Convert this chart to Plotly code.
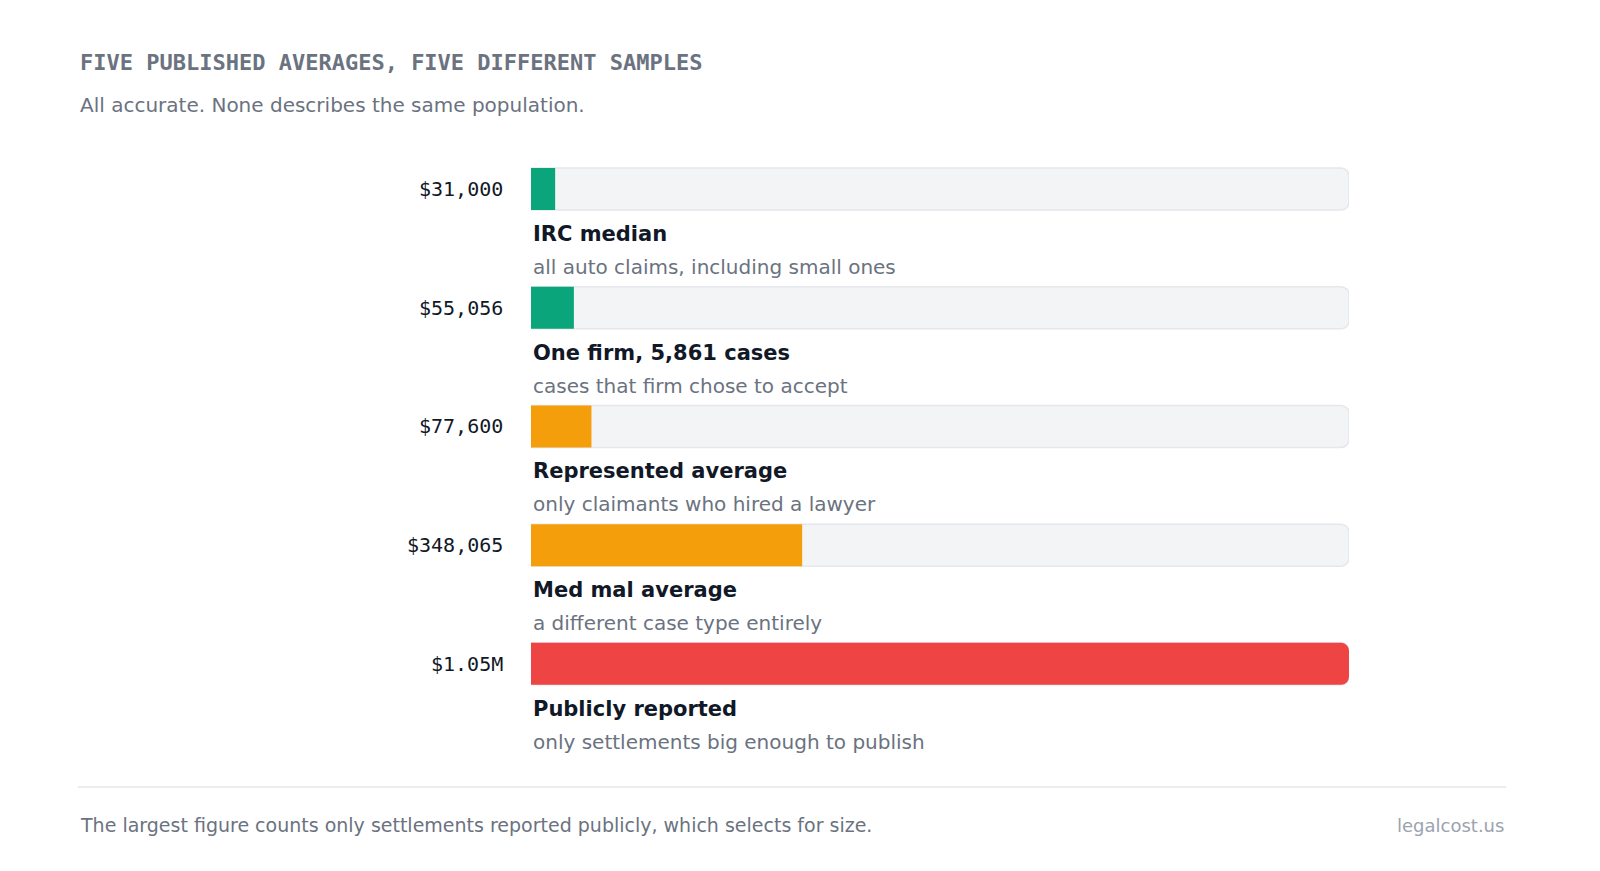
import plotly.graph_objects as go

# data
values = [31000, 55056, 77600, 348065, 1050000]
value_labels = ["$31,000", "$55,056", "$77,600", "$348,065", "$1.05M"]
titles = ["IRC median", "One firm, 5,861 cases", "Represented average",
          "Med mal average", "Publicly reported"]
subtitles = ["all auto claims, including small ones",
             "cases that firm chose to accept",
             "only claimants who hired a lawyer",
             "a different case type entirely",
             "only settlements big enough to publish"]
colors = ["#0ba57c", "#0ba57c", "#f59e0b", "#f59e0b", "#ef4444"]
MAX_VAL = 1050000

W, H = 1600, 871
rows = list(range(len(values)))

fig = go.Figure()

# background tracks
fig.add_trace(go.Bar(
    x=[MAX_VAL] * len(values), y=rows, orientation="h", width=0.354,
    marker=dict(color="#f3f4f6", line=dict(color="#e5e7eb", width=1.5)),
    hoverinfo="skip", showlegend=False,
))
# value bars
fig.add_trace(go.Bar(
    x=values, y=rows, orientation="h", width=0.354,
    marker=dict(color=colors, line=dict(width=0)),
    hovertemplate="%{x:$,.0f}<extra></extra>", showlegend=False,
))

for i in rows:
    fig.add_annotation(x=0, y=i, xref="x", yref="y", text=value_labels[i],
                       showarrow=False, xanchor="right", xshift=-26,
                       font=dict(family="DejaVu Sans Mono", size=20, color="#111827"))
    fig.add_annotation(x=0, y=i, xref="x", yref="y", text="<b>" + titles[i] + "</b>",
                       showarrow=False, xanchor="left", yshift=-45,
                       font=dict(family="DejaVu Sans", size=21, color="#111827"))
    fig.add_annotation(x=0, y=i, xref="x", yref="y", text=subtitles[i],
                       showarrow=False, xanchor="left", yshift=-78,
                       font=dict(family="DejaVu Sans", size=20, color="#6b7280"))

# header / footer
fig.add_annotation(x=70 / W, y=1 - 55 / H, xref="paper", yref="paper",
                   text="<b>FIVE PUBLISHED AVERAGES, FIVE DIFFERENT SAMPLES</b>",
                   showarrow=False, xanchor="left", yanchor="middle",
                   font=dict(family="DejaVu Sans Mono", size=22, color="#6b7280"))
fig.add_annotation(x=70 / W, y=1 - 97 / H, xref="paper", yref="paper",
                   text="All accurate. None describes the same population.",
                   showarrow=False, xanchor="left", yanchor="middle",
                   font=dict(family="DejaVu Sans", size=20, color="#6b7280"))
fig.add_annotation(x=70 / W, y=1 - 817 / H, xref="paper", yref="paper",
                   text="The largest figure counts only settlements reported publicly, which selects for size.",
                   showarrow=False, xanchor="left", yanchor="middle",
                   font=dict(family="DejaVu Sans", size=19, color="#6b7280"))
fig.add_annotation(x=1498 / W, y=1 - 817 / H, xref="paper", yref="paper",
                   text="legalcost.us", showarrow=False, xanchor="right", yanchor="middle",
                   font=dict(family="DejaVu Sans", size=18, color="#9ca3af"))
fig.add_shape(type="line", xref="paper", yref="paper",
              x0=70 / W, x1=1498 / W, y0=1 - 779 / H, y1=1 - 779 / H,
              line=dict(color="#e5e7eb", width=1.5))

fig.update_layout(
    width=W, height=H,
    margin=dict(l=0, r=0, t=0, b=0),
    paper_bgcolor="white", plot_bgcolor="white",
    barmode="overlay", barcornerradius=8,
    xaxis=dict(domain=[523 / W, 1341 / W], range=[0, MAX_VAL],
               visible=False, fixedrange=True),
    yaxis=dict(domain=[1 - 715.2 / H, 1 - 121.7 / H], range=[4.5, -0.5],
               visible=False, fixedrange=True),
)

fig.write_html("out.html")
